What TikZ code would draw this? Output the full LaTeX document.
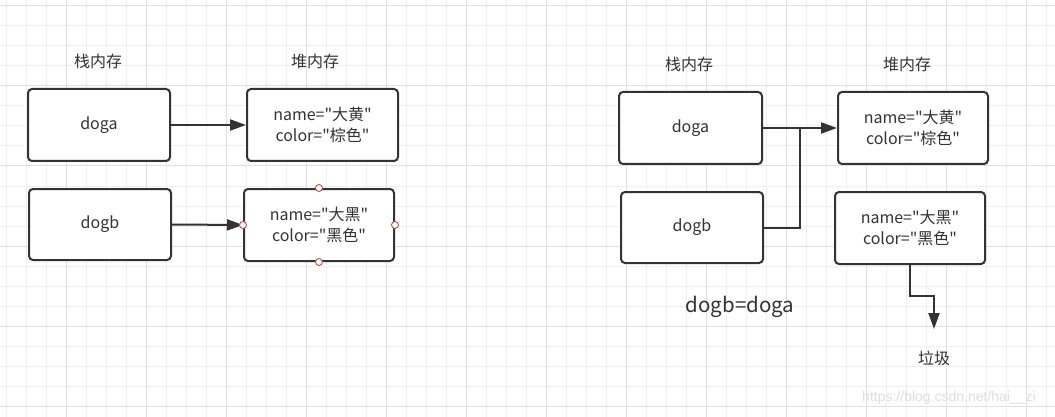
\documentclass[tikz,border=0pt]{standalone}
\usepackage{fontspec}
\setmainfont{Noto Sans CJK SC}[Ligatures=TeXOff]
\newfontfamily\wmfont{Liberation Sans}
\usetikzlibrary{arrows.meta}
\definecolor{ink}{HTML}{333333}
\definecolor{gridminor}{HTML}{F0F0F0}
\definecolor{gridmajor}{HTML}{E0E0E0}
\definecolor{handle}{HTML}{B85450}
\tikzset{
  minorgrid/.style={draw=gridminor, line width=1pt},
  majorgrid/.style={draw=gridmajor, line width=1pt},
  box/.style={draw=ink, line width=2pt, rounded corners=4pt, fill=white, inner sep=0pt,
              align=center, font=\fontsize{16pt}{21pt}\selectfont, text=ink},
  lbl/.style={font=\fontsize{16pt}{19pt}\selectfont, text=ink, inner sep=0pt},
  conn/.style={draw=ink, line width=2pt},
  arr/.style={conn, -{Triangle[length=16pt,width=11pt]}},
  hdl/.style={circle, draw=handle, fill=white, line width=0.9pt, minimum size=7pt, inner sep=0pt}
}
\begin{document}
\begin{tikzpicture}[x=1pt,y=-1pt]
\useasboundingbox (0,0) rectangle (1055,417);
\fill[white] (0,0) rectangle (1055,417);
% grid
\foreach \x in {6,26,...,1046} \draw[minorgrid] (\x,0) -- (\x,417);
\foreach \y in {6,26,...,406} \draw[minorgrid] (0,\y) -- (1055,\y);
\foreach \x in {66,146,...,1026} \draw[majorgrid] (\x,0) -- (\x,417);
\foreach \y in {6,86,...,406} \draw[majorgrid] (0,\y) -- (1055,\y);

% left diagram
\node[lbl] (lstack) at (98,61) {栈内存};
\node[lbl] (lheap) at (315,61) {堆内存};
\node[box, minimum width=142pt, minimum height=72pt] (la) at (99,125) {doga};
\node[box, minimum width=151pt, minimum height=72pt] (lh1) at (322.5,125) {name="大黄"\\color="棕色"};
\node[box, minimum width=142pt, minimum height=71pt] (lb) at (100,224.5) {dogb};
\node[box, minimum width=150pt, minimum height=72pt] (lh2) at (319,225) {name="大黑"\\color="黑色"};
\draw[arr] (la.east) -- (lh1.west);
\draw[arr] (lb.east) -- (lh2.west);
\node[hdl] (h1) at (lh2.north) {};
\node[hdl] (h2) at (lh2.south) {};
\node[hdl] (h3) at (lh2.west) {};
\node[hdl] (h4) at (lh2.east) {};

% right diagram
\node[lbl] (rstack) at (689,64) {栈内存};
\node[lbl] (rheap) at (907,64) {堆内存};
\node[box, minimum width=143pt, minimum height=72pt] (ra) at (690.5,128) {doga};
\node[box, minimum width=142pt, minimum height=71pt] (rb) at (692,227.5) {dogb};
\node[box, minimum width=150pt, minimum height=72pt] (rh1) at (913,128) {name="大黄"\\color="棕色"};
\node[box, minimum width=150pt, minimum height=72pt] (rh2) at (910,228) {name="大黑"\\color="黑色"};
\coordinate (join) at (800,128);
\draw[arr] (ra.east) -- (rh1.west);
\draw[conn] (rb.east) -| (join);
\coordinate (bend) at (934,296);
\coordinate (tip) at (934,329);
\draw[arr] (rh2.south) |- (bend) -- (tip);
\node[lbl, font=\fontsize{20.5pt}{24pt}\selectfont] (assign) at (740,307) {dogb=doga};
\node[lbl] (garbage) at (934,358) {垃圾};
\node[font=\wmfont\fontsize{14pt}{16pt}\selectfont, text=black!13, inner sep=0pt] (wm) at (949,398) {https://blog.csdn.net/hai\_\_zi};
\end{tikzpicture}
\end{document}
